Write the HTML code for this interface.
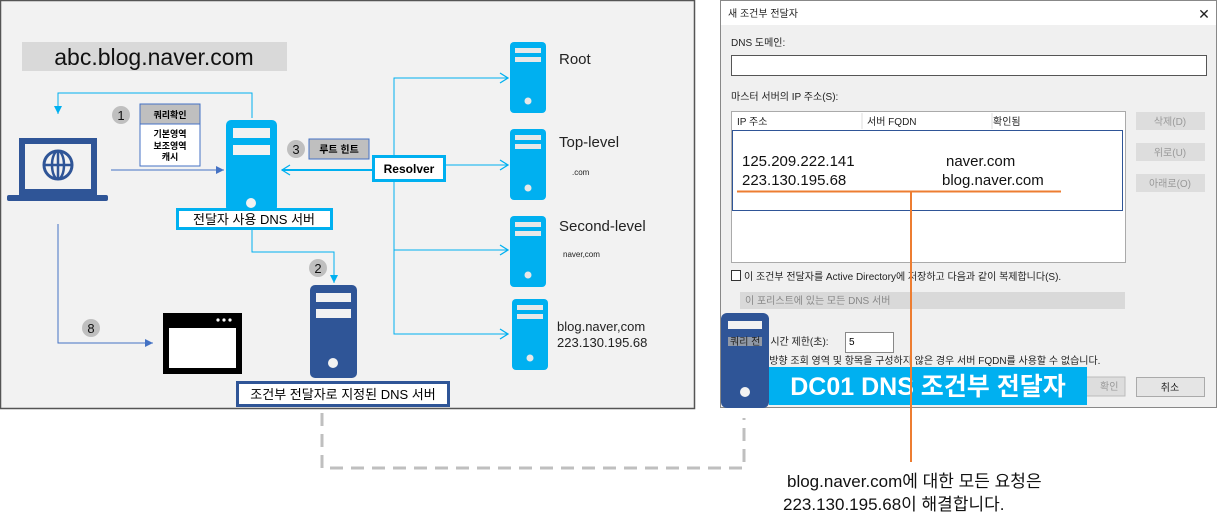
<!DOCTYPE html>
<html><head><meta charset="utf-8"><style>
html,body{margin:0;padding:0;background:#fff;}
svg{display:block;font-family:"Liberation Sans","Noto Sans CJK KR",sans-serif;}
</style></head><body>
<svg width="1217" height="528" viewBox="0 0 1217 528" xmlns="http://www.w3.org/2000/svg">
<defs>
<marker id="ab" markerWidth="10" markerHeight="10" refX="8" refY="5" orient="auto" markerUnits="userSpaceOnUse"><path d="M0,1 L8,5 L0,9 z" fill="#4472c4"/></marker>
<marker id="ac" markerWidth="10" markerHeight="10" refX="8" refY="5" orient="auto" markerUnits="userSpaceOnUse"><path d="M0,1 L8,5 L0,9 z" fill="#00b0f0"/></marker>
<marker id="ao" markerWidth="10" markerHeight="12" refX="9" refY="6" orient="auto" markerUnits="userSpaceOnUse"><path d="M1,1 L9,6 L1,11" fill="none" stroke="#00b0f0" stroke-width="1.3"/></marker>
<g id="srv"><rect x="0" y="0" width="36" height="71" rx="4" fill="#00b0f0"/><rect x="5" y="6" width="26" height="5" fill="#e8e8e8"/><rect x="5" y="15" width="26" height="5" fill="#e8e8e8"/><circle cx="18" cy="59" r="3.5" fill="#e8e8e8"/></g>
</defs>
<rect x="0.5" y="0.5" width="694" height="408" fill="#f2f2f2" stroke="#555" stroke-width="1.5"/>
<rect x="22" y="42" width="265" height="29" fill="#d9d9d9"/>
<text x="154" y="65" font-size="23" text-anchor="middle" fill="#111">abc.blog.naver.com</text>
<rect x="22" y="141" width="72" height="51" fill="none" stroke="#2f5597" stroke-width="6"/>
<rect x="7" y="195" width="101" height="6" rx="2" fill="#2f5597"/>
<circle cx="58" cy="165" r="14" fill="none" stroke="#2f5597" stroke-width="3"/>
<ellipse cx="58" cy="165" rx="6" ry="14" fill="none" stroke="#2f5597" stroke-width="2.5"/>
<line x1="44" y1="165" x2="72" y2="165" stroke="#2f5597" stroke-width="2.5"/>
<line x1="58" y1="151" x2="58" y2="179" stroke="#2f5597" stroke-width="2.5"/>
<polyline points="252,118 252,93 58,93 58,114" fill="none" stroke="#00b0f0" stroke-width="1" marker-end="url(#ac)"/>
<line x1="111" y1="170" x2="224" y2="170" stroke="#4472c4" stroke-width="1" marker-end="url(#ab)"/>
<polyline points="58,224 58,343 153,343" fill="none" stroke="#4472c4" stroke-width="1" marker-end="url(#ab)"/>
<polyline points="252,228 252,252 334,252 334,283" fill="none" stroke="#00b0f0" stroke-width="1" marker-end="url(#ac)"/>
<circle cx="121" cy="115" r="9" fill="#bfbfbf"/><text x="121" y="120" font-size="13" text-anchor="middle" fill="#111">1</text>
<circle cx="296" cy="149" r="9" fill="#bfbfbf"/><text x="296" y="154" font-size="13" text-anchor="middle" fill="#111">3</text>
<circle cx="318" cy="268" r="9" fill="#bfbfbf"/><text x="318" y="273" font-size="13" text-anchor="middle" fill="#111">2</text>
<circle cx="91" cy="328" r="9" fill="#bfbfbf"/><text x="91" y="333" font-size="13" text-anchor="middle" fill="#111">8</text>
<rect x="140" y="104" width="60" height="20" fill="#bfbfbf" stroke="#4472c4"/>
<rect x="140" y="124" width="60" height="42" fill="#fff" stroke="#4472c4"/>
<text x="170" y="118" font-size="9" font-weight="bold" text-anchor="middle">쿼리확인</text>
<text x="170" y="137" font-size="9" font-weight="bold" text-anchor="middle">기본영역</text>
<text x="170" y="149" font-size="9" font-weight="bold" text-anchor="middle">보조영역</text>
<text x="170" y="160" font-size="9" font-weight="bold" text-anchor="middle">캐시</text>
<rect x="226" y="120" width="51" height="92" rx="5" fill="#00b0f0"/>
<rect x="233" y="128" width="37" height="10" fill="#f2f2f2"/><rect x="233" y="145" width="37" height="10" fill="#f2f2f2"/>
<circle cx="251" cy="203" r="5" fill="#f2f2f2"/>
<rect x="177.5" y="209.5" width="154" height="19" fill="#fff" stroke="#00b0f0" stroke-width="3"/>
<text x="254" y="224" font-size="13" text-anchor="middle">전달자 사용 DNS 서버</text>
<rect x="309" y="139" width="60" height="20" fill="#bfbfbf" stroke="#4472c4"/>
<text x="339" y="153" font-size="10" font-weight="bold" text-anchor="middle">루트 힌트</text>
<polyline points="508,78 394,78 394,334 508,334" fill="none" stroke="#00b0f0" stroke-width="1" marker-end="url(#ao)"/>
<line x1="394" y1="78" x2="508" y2="78" stroke="#00b0f0" marker-end="url(#ao)"/>
<line x1="445" y1="165" x2="508" y2="165" stroke="#00b0f0" marker-end="url(#ao)"/>
<line x1="394" y1="250" x2="508" y2="250" stroke="#00b0f0" marker-end="url(#ao)"/>
<line x1="372" y1="170" x2="282" y2="170" stroke="#00b0f0" stroke-width="2" marker-end="url(#ao)"/>
<rect x="373.5" y="156.5" width="71" height="24" fill="#fff" stroke="#00b0f0" stroke-width="3"/>
<text x="409" y="173" font-size="12" font-weight="bold" text-anchor="middle">Resolver</text>
<use href="#srv" x="510" y="42"/><use href="#srv" x="510" y="129"/><use href="#srv" x="510" y="216"/><use href="#srv" x="512" y="299"/>
<text x="559" y="64" font-size="15" fill="#222">Root</text>
<text x="559" y="147" font-size="15" fill="#222">Top-level</text>
<text x="572" y="175" font-size="8" fill="#222">.com</text>
<text x="559" y="231" font-size="15" fill="#222">Second-level</text>
<text x="563" y="257" font-size="8" fill="#222">naver,com</text>
<text x="557" y="331" font-size="13" fill="#222">blog.naver,com</text>
<text x="557" y="347" font-size="13" fill="#222">223.130.195.68</text>
<rect x="310" y="285" width="47" height="93" rx="5" fill="#2f5597"/>
<rect x="316" y="293" width="35" height="9" fill="#f2f2f2"/><rect x="316" y="309" width="35" height="9" fill="#f2f2f2"/>
<circle cx="333" cy="363" r="5" fill="#f2f2f2"/>
<rect x="237.5" y="382.5" width="211" height="23" fill="#fff" stroke="#2f5597" stroke-width="3"/>
<text x="343" y="399" font-size="13" text-anchor="middle">조건부 전달자로 지정된 DNS 서버</text>
<rect x="163" y="313" width="79" height="61" fill="#000"/><rect x="169" y="328" width="67" height="40" fill="#fff"/>
<circle cx="218" cy="320" r="1.6" fill="#fff"/><circle cx="224" cy="320" r="1.6" fill="#fff"/><circle cx="230" cy="320" r="1.6" fill="#fff"/>
<polyline points="322,413 322,468 744,468 744,418" fill="none" stroke="#bfbfbf" stroke-width="3" stroke-dasharray="13,8"/>
<rect x="720.5" y="0.5" width="496" height="407" fill="#f0f0f0" stroke="#888"/>
<rect x="721" y="1" width="495" height="24" fill="#fff"/>
<text x="728" y="17" font-size="10" fill="#222">새 조건부 전달자</text>
<text x="1204" y="19" font-size="14" text-anchor="middle" fill="#222">✕</text>
<text x="731" y="46" font-size="10" fill="#222">DNS 도메인:</text>
<rect x="731.5" y="55.5" width="475" height="20" fill="#fff" stroke="#555"/>
<text x="731" y="100" font-size="10" fill="#222">마스터 서버의 IP 주소(S):</text>
<rect x="731.5" y="111.5" width="394" height="151" fill="#fff" stroke="#aaa"/>
<text x="737" y="125" font-size="10" fill="#222">IP 주소</text>
<text x="867" y="125" font-size="10" fill="#222">서버 FQDN</text>
<text x="993" y="125" font-size="10" fill="#222">확인됨</text>
<line x1="862" y1="113" x2="862" y2="129" stroke="#ddd"/><line x1="992" y1="113" x2="992" y2="129" stroke="#ddd"/>
<rect x="732.5" y="130.5" width="390" height="80" fill="#fff" stroke="#2f5597"/>
<text x="742" y="166" font-size="15" fill="#111">125.209.222.141</text>
<text x="946" y="166" font-size="15" fill="#111">naver.com</text>
<text x="742" y="185" font-size="15" fill="#111">223.130.195.68</text>
<text x="942" y="185" font-size="15" fill="#111">blog.naver.com</text>
<line x1="737" y1="191.5" x2="1061" y2="191.5" stroke="#ed7d31" stroke-width="2"/>
<g font-size="10" fill="#999" text-anchor="middle">
<rect x="1136" y="112" width="69" height="18" fill="#ddd"/><text x="1170" y="125">삭제(D)</text>
<rect x="1136" y="143" width="69" height="18" fill="#ddd"/><text x="1170" y="156">위로(U)</text>
<rect x="1136" y="174" width="69" height="18" fill="#ddd"/><text x="1170" y="187">아래로(O)</text>
</g>
<rect x="731.5" y="270.5" width="9" height="10" fill="#fff" stroke="#333"/>
<text x="744" y="280" font-size="10" fill="#222">이 조건부 전달자를 Active Directory에 저장하고 다음과 같이 복제합니다(S).</text>
<rect x="740" y="292" width="385" height="17" fill="#d9d9d9"/>
<text x="745" y="304" font-size="10" fill="#888">이 포리스트에 있는 모든 DNS 서버</text>
<text x="728" y="345" font-size="10" fill="#222">쿼리 전달 시간 제한(초):</text>
<rect x="845.5" y="332.5" width="48" height="20" fill="#fff" stroke="#888"/>
<text x="849" y="345" font-size="10">5</text>
<text x="760" y="364" font-size="10" fill="#222">역방향 조회 영역 및 항목을 구성하지 않은 경우 서버 FQDN를 사용할 수 없습니다.</text>
<rect x="1000" y="377" width="125" height="19" fill="#ddd" stroke="#bbb"/><text x="1100" y="390" font-size="10" fill="#999">확인</text>
<rect x="1136.5" y="377.5" width="68" height="19" fill="#e5e5e5" stroke="#aaa"/><text x="1170" y="391" font-size="10" text-anchor="middle" fill="#222">취소</text>
<rect x="721" y="313" width="48" height="95" rx="6" fill="#2f5597"/>
<rect x="728" y="321" width="34" height="8" fill="#f2f2f2"/>
<rect x="728" y="337" width="34" height="9" fill="#aaa" opacity="0.8"/>
<text x="730" y="345" font-size="10" fill="#222">쿼리 전</text>
<circle cx="745" cy="392" r="5" fill="#f2f2f2"/>
<rect x="769" y="367" width="318" height="38" fill="#00b0f0"/>
<text x="928" y="395" font-size="25" font-weight="bold" text-anchor="middle" fill="#fff">DC01 DNS 조건부 전달자</text>
<line x1="911" y1="191" x2="911" y2="462" stroke="#ed7d31" stroke-width="2"/>
<text x="787" y="487" font-size="17" fill="#111">blog.naver.com에 대한 모든 요청은</text>
<text x="783" y="510" font-size="17" fill="#111">223.130.195.68이 해결합니다.</text>
</svg>
</body></html>
